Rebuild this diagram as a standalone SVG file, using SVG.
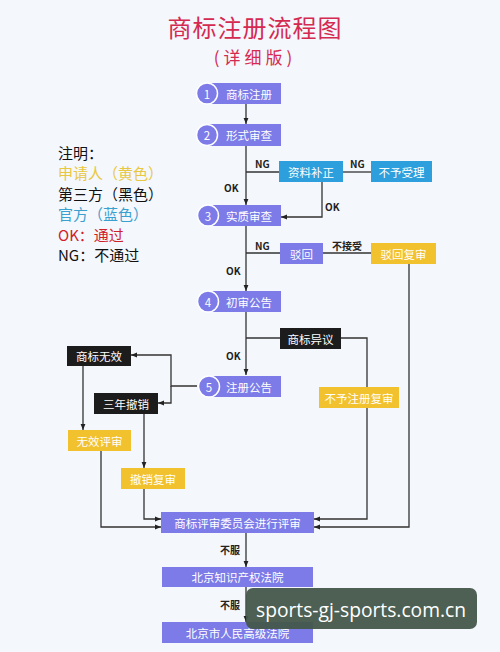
<svg xmlns="http://www.w3.org/2000/svg" width="500" height="652" viewBox="0 0 500 652">
<defs>
<marker id="ar" viewBox="0 0 10 10" refX="10" refY="5" markerWidth="6" markerHeight="6" orient="auto" markerUnits="userSpaceOnUse">
<path d="M0,1 L10,5 L0,9 z" fill="#222"/>
</marker>
<style>
text{font-family:"Noto Sans CJK SC","Noto Sans",sans-serif;}
.ln{fill:none;stroke:#333;stroke-width:1.3;}
.pv{fill:#7c7be8;}
.bl{fill:#2c9fdc;}
.ye{fill:#f2c12e;}
.bk{fill:#1c1c1c;}
.wt{fill:#fff;font-size:11.5px;text-anchor:middle;dominant-baseline:central;}
.lb{fill:#222;font-size:10px;font-weight:bold;dominant-baseline:central;}
.lg{font-size:15px;dominant-baseline:central;}
.num{fill:#7c7be8;stroke:#fff;stroke-width:1.5;}
</style>
</defs>
<rect width="500" height="652" fill="#f4f7fb"/>
<text x="255" y="26" font-size="24" fill="#d42a52" text-anchor="middle" dominant-baseline="central" letter-spacing="1">商标注册流程图</text>
<text x="255" y="56" font-size="17" fill="#d42a52" text-anchor="middle" dominant-baseline="central" letter-spacing="4">(详细版)</text>
<g id="legend">
<text x="58" y="152" class="lg" fill="#111">注明：</text>
<text x="58" y="172" class="lg" fill="#e8c840">申请人（黄色）</text>
<text x="58" y="193" class="lg" fill="#111">第三方（黑色）</text>
<text x="58" y="213" class="lg" fill="#3aa0d0">官方（蓝色）</text>
<text x="58" y="234" class="lg" fill="#d0202a">OK：通过</text>
<text x="58" y="254" class="lg" fill="#111">NG：不通过</text>
</g>
<g id="connectors">
<path class="ln" d="M246,104 V124" marker-end="url(#ar)"/>
<path class="ln" d="M246,146 V205" marker-end="url(#ar)"/>
<path class="ln" d="M246,172 H279"/>
<path class="ln" d="M343,172 H371"/>
<path class="ln" d="M322,182 V217 H281" marker-end="url(#ar)"/>
<path class="ln" d="M246,226 V291" marker-end="url(#ar)"/>
<path class="ln" d="M246,253 H280"/>
<path class="ln" d="M323,253 H371"/>
<path class="ln" d="M409,264 V527 H314" marker-end="url(#ar)"/>
<path class="ln" d="M246,312 V375" marker-end="url(#ar)"/>
<path class="ln" d="M246,338 H280"/>
<path class="ln" d="M341,338 H367 V519 H314" marker-end="url(#ar)"/>
<path class="ln" d="M197,386 H171 V355 H131" marker-end="url(#ar)"/>
<path class="ln" d="M171,386 V403 H158" marker-end="url(#ar)"/>
<path class="ln" d="M83,366 V430" marker-end="url(#ar)"/>
<path class="ln" d="M144,414 V468" marker-end="url(#ar)"/>
<path class="ln" d="M101,451 V527 H161" marker-end="url(#ar)"/>
<path class="ln" d="M144,489 V519 H161" marker-end="url(#ar)"/>
<path class="ln" d="M246,533 V567" marker-end="url(#ar)"/>
<path class="ln" d="M246,587 V622" marker-end="url(#ar)"/>
<text x="255" y="163" class="lb">NG</text>
<text x="350" y="163" class="lb">NG</text>
<text x="224" y="187" class="lb">OK</text>
<text x="325" y="206" class="lb">OK</text>
<text x="255" y="245" class="lb">NG</text>
<text x="332" y="245" class="lb" font-weight="normal">不接受</text>
<text x="226" y="270" class="lb">OK</text>
<text x="226" y="355" class="lb">OK</text>
<text x="220" y="549" class="lb">不服</text>
<text x="220" y="604" class="lb">不服</text>
</g>
<g id="step1"><rect x="207" y="83" width="74" height="21" class="pv"/><circle cx="207" cy="93.5" r="10.5" class="num"/><text x="207" y="93.5" class="wt">1</text><text x="249" y="93.5" class="wt">商标注册</text></g>
<g id="step2"><rect x="207" y="124" width="74" height="22" class="pv"/><circle cx="207" cy="135" r="10.5" class="num"/><text x="207" y="135" class="wt">2</text><text x="249" y="135" class="wt">形式审查</text></g>
<g id="step3"><rect x="208" y="205" width="73" height="21" class="pv"/><circle cx="208" cy="215.5" r="10.5" class="num"/><text x="208" y="215.5" class="wt">3</text><text x="249" y="215.5" class="wt">实质审查</text></g>
<g id="step4"><rect x="208" y="291" width="73" height="21" class="pv"/><circle cx="208" cy="301.5" r="10.5" class="num"/><text x="208" y="301.5" class="wt">4</text><text x="249" y="301.5" class="wt">初审公告</text></g>
<g id="step5"><rect x="209" y="376" width="72" height="21" class="pv"/><circle cx="209" cy="386.5" r="10.5" class="num"/><text x="209" y="386.5" class="wt">5</text><text x="249" y="386.5" class="wt">注册公告</text></g>
<g id="supplement"><rect x="279" y="161" width="64" height="21" class="bl"/><text x="311" y="171.5" class="wt">资料补正</text></g>
<g id="reject-accept"><rect x="371" y="161" width="61" height="21" class="bl"/><text x="401.5" y="171.5" class="wt">不予受理</text></g>
<g id="rejected"><rect x="280" y="243" width="43" height="21" class="pv"/><text x="301.5" y="253.5" class="wt">驳回</text></g>
<g id="reject-review"><rect x="371" y="243" width="65" height="21" class="ye"/><text x="403.5" y="253.5" class="wt">驳回复审</text></g>
<g id="opposition"><rect x="280" y="328" width="61" height="21" class="bk"/><text x="310.5" y="338.5" class="wt">商标异议</text></g>
<g id="no-reg-review"><rect x="319" y="387" width="80" height="21" class="ye"/><text x="359" y="397.5" class="wt">不予注册复审</text></g>
<g id="invalid"><rect x="67" y="346" width="64" height="20" class="bk"/><text x="99" y="356" class="wt">商标无效</text></g>
<g id="cancel3"><rect x="94" y="393" width="64" height="21" class="bk"/><text x="126" y="403.5" class="wt">三年撤销</text></g>
<g id="invalid-review"><rect x="68" y="430" width="63" height="21" class="ye"/><text x="99.5" y="440.5" class="wt">无效评审</text></g>
<g id="cancel-review"><rect x="121" y="468" width="64" height="21" class="ye"/><text x="153" y="478.5" class="wt">撤销复审</text></g>
<g id="board"><rect x="161" y="512" width="153" height="21" class="pv"/><text x="237.5" y="522.5" class="wt">商标评审委员会进行评审</text></g>
<g id="ipcourt"><rect x="162" y="567" width="151" height="20" class="pv"/><text x="237.5" y="577" class="wt">北京知识产权法院</text></g>
<g id="highcourt"><rect x="162" y="622" width="151" height="21" class="pv"/><text x="237.5" y="632.5" class="wt">北京市人民高级法院</text></g>
<g id="watermark"><rect x="246" y="588" width="231" height="41" rx="7" fill="#44574b" fill-opacity="0.95"/><text x="256" y="609" font-size="20" fill="#fff" dominant-baseline="central" textLength="210" lengthAdjust="spacingAndGlyphs" style="font-family:'Open Sans','Noto Sans',sans-serif">sports-gj-sports.com.cn</text></g>
</svg>
